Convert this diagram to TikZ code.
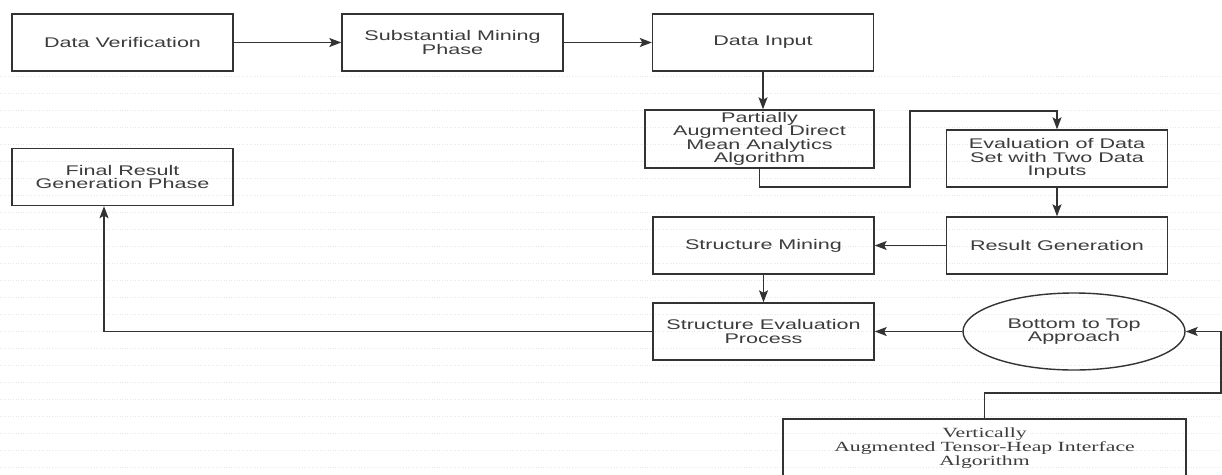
\documentclass[tikz,border=0pt]{standalone}
\usepackage{fontspec}
\setmainfont{Liberation Sans}[FakeStretch=1.54]
\newfontfamily\serifwide{Liberation Serif}[FakeStretch=1.55]
\usetikzlibrary{arrows.meta,shapes.geometric}
\definecolor{linegray}{HTML}{333333}
\definecolor{textgray}{HTML}{3C3C3C}
\tikzset{
  stage/.style={draw=linegray,line width=1.4pt,minimum width=221pt,minimum height=57pt,
    align=center,text=textgray,font=\fontsize{14}{13.5}\selectfont,inner sep=1pt},
  oval/.style={stage,ellipse,minimum width=222pt,minimum height=77pt},
  flow/.style={draw=linegray,line width=1.3pt,-{Stealth[length=12pt,width=9pt,inset=2.5pt]}},
  gridline/.style={gray!18,dotted,line width=0.6pt}
}
\begin{document}
\begin{tikzpicture}[x=1pt,y=-1pt]
\useasboundingbox (0,0) rectangle (1222,474);
%faint grid of the drawing tool
\foreach \gy in {76,93,...,474} \draw[gridline] (0,\gy) -- (1222,\gy);
% boxes
\node[stage] (verify) at (122.5,42.5) {Data Verification};
\node[stage] (mining) at (452.5,42.5) {Substantial Mining\\Phase};
\node[stage] (input) at (763,42.5) {Data Input};
\node[stage,minimum width=229pt,minimum height=58pt] (padma) at (759.5,139) {Partially\\Augmented Direct\\Mean Analytics\\Algorithm};
\node[stage] (evalset) at (1057,158.5) {Evaluation of Data\\Set with Two Data\\Inputs};
\node[stage] (result) at (1057,245.5) {Result Generation};
\node[stage] (structure) at (763.5,245.5) {Structure Mining};
\node[stage] (structeval) at (763.5,331.5) {Structure Evaluation\\Process};
\node[oval] (bottomtop) at (1074,331.5) {Bottom to Top\\Approach};
\node[stage,minimum width=403pt,minimum height=58pt,font=\serifwide\fontsize{14}{14}\selectfont] (vathia) at (984.5,448) {Vertically\\Augmented Tensor-Heap Interface\\Algorithm};
\node[stage] (final) at (122.5,177) {Final Result\\Generation Phase};
% bends
\coordinate (jogA) at (910,187);
\coordinate (jogB) at (910,111);
\coordinate (turnR) at (1221,393);
% connectors
\draw[flow] (verify) -- (mining);
\draw[flow] (mining) -- (input);
\draw[flow] (input) -- (input |- padma.north);
\draw[flow] (padma.south) |- (jogA) -- (jogB) -| (evalset.north);
\draw[flow] (evalset) -- (result);
\draw[flow] (result) -- (structure);
\draw[flow] (structure) -- (structeval);
\draw[flow] (bottomtop) -- (structeval);
\draw[flow] (vathia.north) |- (turnR) |- (bottomtop.east);
\draw[flow] (structeval.west) -| ([xshift=-18.5pt]final.south);
\end{tikzpicture}
\end{document}
